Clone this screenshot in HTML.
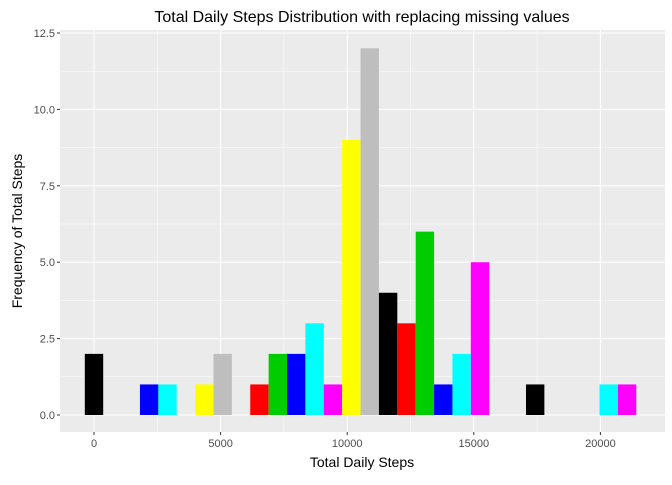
<!DOCTYPE html>
<html><head><meta charset="utf-8"><style>
body{margin:0;background:#fff;font-family:"Liberation Sans",sans-serif}
</style></head><body>
<svg id="c" width="672" height="480" xmlns="http://www.w3.org/2000/svg"></svg>
<script>
const binIndex=[0,1,2,3,4,5,6,7,8,9,10,11,12,13,14,15,16,17,18,19,20,21,22,23,24,25,26,27,28,29];
const counts=[2,0,0,1,1,0,1,2,0,1,2,2,3,1,9,12,4,3,6,1,2,5,0,0,1,0,0,0,1,1];
const palette=["#000000","#ff0000","#00cd00","#0000ff","#00ffff","#ff00ff","#ffff00","#bebebe"];
const xTicks=[0,5000,10000,15000,20000];
const yTicks=[0,2.5,5,7.5,10,12.5];
const binwidth=726;
const L=60,R=665,T=30,B=432;
const xs=v=>94+(v)*(126.6/5000);
const ys=v=>415-v*(382/12.5);
const svg=document.getElementById('c');
const NS="http://www.w3.org/2000/svg";
function mk(t,a){const e=document.createElementNS(NS,t);for(const k in a)e.setAttribute(k,a[k]);svg.appendChild(e);return e;}
let p=mk('rect',{x:L,y:T,width:R-L,height:B-T,fill:'#ebebeb'});


for(let i=0;i<yTicks.length-1;i++){const v=(yTicks[i]+yTicks[i+1])/2;mk('line',{x1:L,x2:R,y1:ys(v),y2:ys(v),stroke:'#fff','stroke-width':0.5});}
for(let i=0;i<xTicks.length-1;i++){const v=(xTicks[i]+xTicks[i+1])/2;mk('line',{y1:T,y2:B,x1:xs(v),x2:xs(v),stroke:'#fff','stroke-width':0.5});}
yTicks.forEach(v=>{mk('line',{x1:L,x2:R,y1:ys(v),y2:ys(v),stroke:'#fff','stroke-width':1.1});
 mk('line',{x1:L-3,x2:L,y1:ys(v),y2:ys(v),stroke:'#333'});
 const t=mk('text',{x:L-5,y:ys(v)+4,'text-anchor':'end','font-size':11,fill:'#4d4d4d'});t.textContent=v.toFixed(1);
 
 });
xTicks.forEach(v=>{mk('line',{y1:T,y2:B,x1:xs(v),x2:xs(v),stroke:'#fff','stroke-width':1.1});
 mk('line',{y1:B,y2:B+3,x1:xs(v),x2:xs(v),stroke:'#333'});
 const t=mk('text',{x:xs(v),y:B+15,'text-anchor':'middle','font-size':11,fill:'#4d4d4d'});t.textContent=v;
 
 });
binIndex.forEach((k,i)=>{const c=counts[i];if(!c)return;
 const x0=xs((k-0.5)*binwidth),x1=xs((k+0.5)*binwidth);
 const r=mk('rect',{x:x0,y:ys(c),width:x1-x0,height:ys(0)-ys(c),fill:palette[k%8]});
 
 });
let t=mk('text',{x:362,y:22,'text-anchor':'middle','font-size':16,fill:'#000'});t.textContent='Total Daily Steps Distribution with replacing missing values';


t=mk('text',{x:362,y:467,'text-anchor':'middle','font-size':14,fill:'#000'});t.textContent='Total Daily Steps';


t=mk('text',{x:22,y:231,'text-anchor':'middle','font-size':14,fill:'#000',transform:'rotate(-90 22 231)'});t.textContent='Frequency of Total Steps';


</script>
</body></html>
